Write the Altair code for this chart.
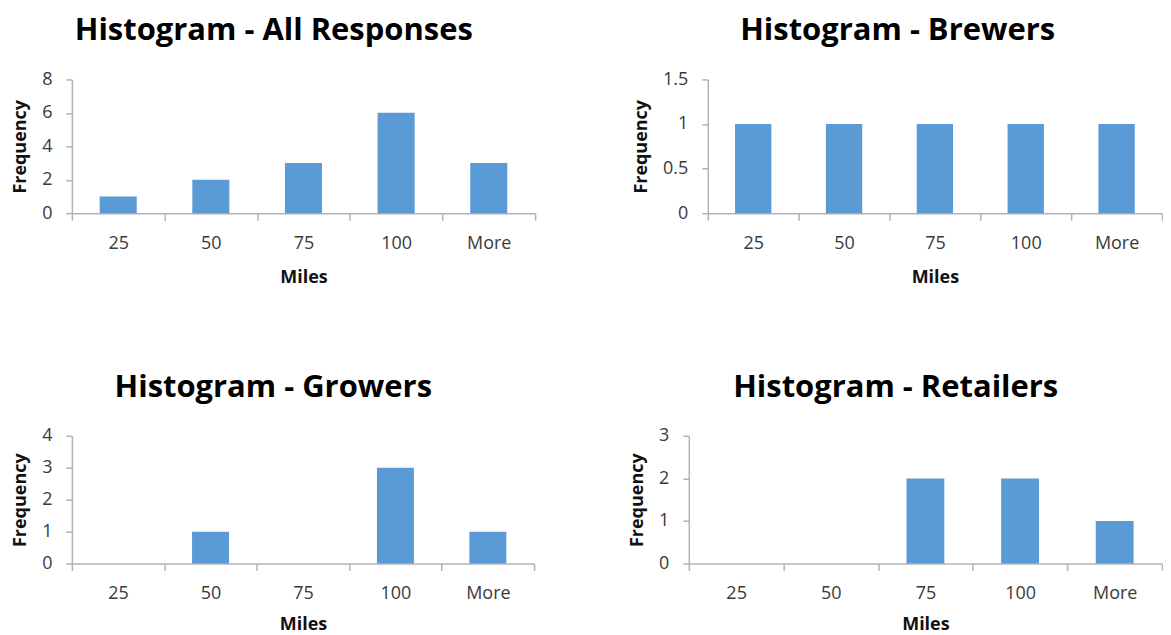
import altair as alt
import pandas as pd

categories = ["25", "50", "75", "100", "More"]
all_responses = [1, 2, 3, 6, 3]
brewers = [1, 1, 1, 1, 1]
growers = [0, 1, 0, 3, 1]
retailers = [0, 0, 2, 2, 1]

FONT = "Open Sans"
BAR = "#5b9bd5"
AXIS_GREY = "#b3b3b3"
TEXT = "#3a3a3a"


def panel(title, values, yticks, width, height, xtitle_pad):
    df = pd.DataFrame({"Miles": categories, "Frequency": values})
    return (
        alt.Chart(df)
        .mark_bar(color=BAR, width=alt.RelativeBandSize(0.4))
        .encode(
            x=alt.X(
                "Miles:N",
                sort=categories,
                scale=alt.Scale(paddingInner=0, paddingOuter=0),
                axis=alt.Axis(
                    title="Miles",
                    labelAngle=0,
                    tickBand="extent",
                    tickSize=7,
                    labelPadding=14,
                    titlePadding=xtitle_pad,
                ),
            ),
            y=alt.Y(
                "Frequency:Q",
                scale=alt.Scale(domain=[yticks[0], yticks[-1]], nice=False),
                axis=alt.Axis(
                    title="Frequency",
                    values=yticks,
                    format="~g",
                    grid=False,
                    tickSize=6,
                    labelPadding=14,
                    titlePadding=12,
                ),
            ),
        )
        .properties(
            width=width,
            height=height,
            title=alt.TitleParams(title, frame="bounds", anchor="middle", offset=23),
        )
    )


p1 = panel("Histogram - All Responses", all_responses, [0, 2, 4, 6, 8], 464, 134, 16)
p2 = panel("Histogram - Brewers", brewers, [0, 0.5, 1, 1.5], 455, 134, 16)
p3 = panel("Histogram - Growers", growers, [0, 1, 2, 3, 4], 463, 128, 13)
p4 = panel("Histogram - Retailers", retailers, [0, 1, 2, 3], 474, 128, 13)

row1 = alt.hconcat(p1, p2, spacing=173, bounds="flush")
row2 = alt.hconcat(p3, p4, spacing=155, bounds="flush")

chart = (
    alt.vconcat(row1, row2, spacing=86)
    .properties(padding={"left": 3, "top": 7, "right": 0, "bottom": 0}, background="white")
    .configure_view(stroke=None)
    .configure_axis(
        labelFont=FONT,
        labelFontSize=18,
        labelColor=TEXT,
        titleFont=FONT,
        titleFontSize=18,
        titleFontWeight="bold",
        titleColor="#111111",
        domainColor=AXIS_GREY,
        tickColor=AXIS_GREY,
        domainWidth=1.5,
        tickWidth=1.5,
    )
    .configure_title(font=FONT, fontSize=31, fontWeight="bold", color="#000000")
)

chart.save("out.html", embed_options={"renderer": "svg", "actions": False})
